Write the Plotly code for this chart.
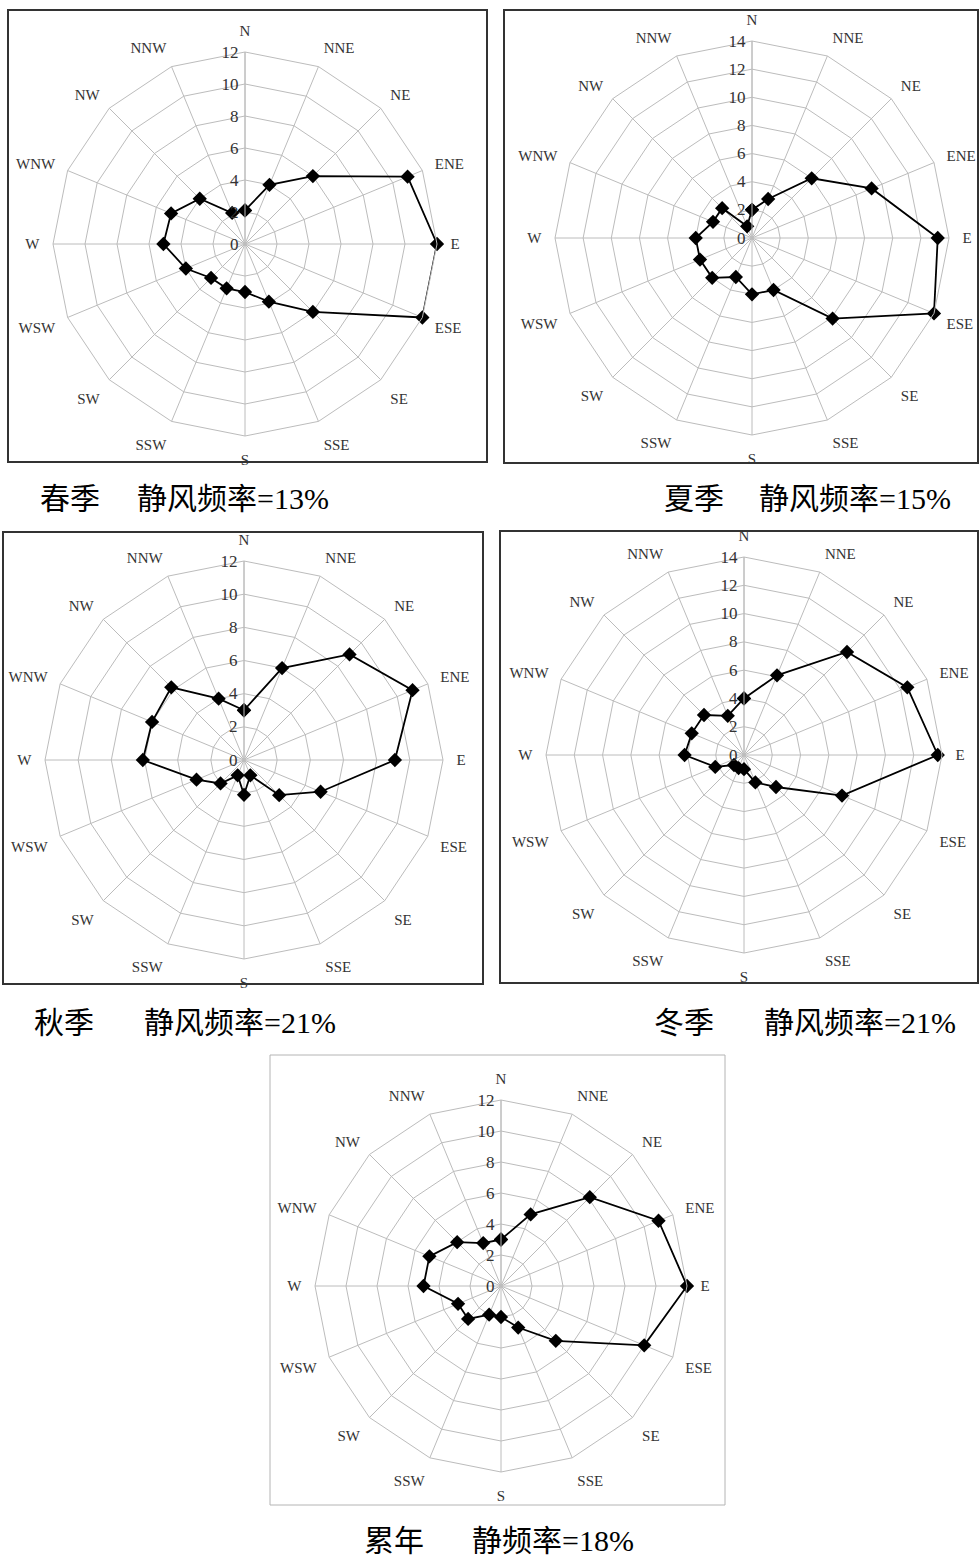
import plotly.graph_objects as go

W, H = 979, 1558

directions = ["N", "NNE", "NE", "ENE", "E", "ESE", "SE", "SSE",
              "S", "SSW", "SW", "WSW", "W", "WNW", "NW", "NNW"]

spring = [2.1, 4, 6, 11, 12, 12, 6, 3.9, 3, 3, 3, 4, 5.1, 5, 4, 2.1]
summer = [2, 3, 6, 9.2, 13.2, 14, 8.1, 4, 4, 3, 4, 4, 4, 3, 3, 0.9]
autumn = [3, 6, 9, 11, 9.1, 5, 3, 1, 2.1, 1, 2, 3.1, 6.1, 6, 6.2, 4]
winter = [4, 6.1, 10.3, 12.5, 13.7, 7.5, 3.2, 2.1, 1, 1, 1, 2.2, 4.2, 4, 4, 3]
annual = [3, 5, 8.1, 11, 12, 10, 5, 2.9, 2, 2, 3, 3, 5, 5, 4, 3]

seasons = ["春季", "夏季", "秋季", "冬季", "累年"]
calm = ["静风频率=13%", "静风频率=15%", "静风频率=21%", "静风频率=21%", "静频率=18%"]

# ─── panel geometry (pixels) ─────────────────────────────────────────────────
# (series, rmax, centre x, centre y, radius, box x0, y0, x1, y1, box colour, box width)
panels = [
    (spring, 12, 245, 244, 192, 8, 10, 487, 462, "#333333", 2),
    (summer, 14, 752, 238, 197, 504, 10, 978, 463, "#333333", 2),
    (autumn, 12, 244, 760, 199, 3, 532, 483, 984, "#333333", 2),
    (winter, 14, 744, 755, 198, 500, 531, 978, 983, "#333333", 2),
    (annual, 12, 501, 1286, 186, 270, 1055, 725, 1505, "#b4b4b4", 1),
]
# (season text left x, calm text left x, centre y)
caption_pos = [(38, 135, 498), (662, 757, 498), (32, 142, 1022),
               (652, 762, 1022), (362, 470, 1540)]

SERIF = "Liberation Serif, Noto Sans CJK SC"
GRID = "#bcbcbc"

fig = go.Figure()
layout = dict(
    width=W, height=H,
    margin=dict(l=0, r=0, t=0, b=0),
    paper_bgcolor="white",
    plot_bgcolor="white",
    showlegend=False,
    shapes=[], annotations=[],
)

for i, (vals, rmax, cx, cy, R, bx0, by0, bx1, by1, bcol, bw) in enumerate(panels):
    key = "polar" if i == 0 else f"polar{i + 1}"
    fig.add_trace(go.Scatterpolar(
        r=vals + [vals[0]],
        theta=directions + [directions[0]],
        mode="lines+markers",
        line=dict(color="black", width=1.8),
        marker=dict(symbol="diamond", size=11, color="black"),
        subplot=key,
    ))
    layout[key] = dict(
        domain=dict(x=[(cx - R) / W, (cx + R) / W],
                    y=[1 - (cy + R) / H, 1 - (cy - R) / H]),
        gridshape="linear",
        bgcolor="white",
        radialaxis=dict(
            range=[0, rmax], dtick=2, tick0=0, angle=90, tickangle=90,
            side="counterclockwise",
            showline=True, linecolor=GRID, linewidth=1,
            gridcolor=GRID, gridwidth=1,
            ticks="", tickfont=dict(family=SERIF, size=17, color="#333"),
        ),
        angularaxis=dict(
            direction="clockwise", rotation=90, type="category",
            categoryarray=directions,
            showline=True, linecolor=GRID, linewidth=1,
            gridcolor=GRID, gridwidth=1,
            ticks="outside", ticklen=10, tickcolor="rgba(0,0,0,0)",
            tickfont=dict(family=SERIF, size=15, color="#333"),
        ),
    )
    layout["shapes"].append(dict(
        type="rect", xref="paper", yref="paper",
        x0=bx0 / W, x1=bx1 / W, y0=1 - by1 / H, y1=1 - by0 / H,
        line=dict(color=bcol, width=bw), layer="below",
    ))
    sx, kx, ty = caption_pos[i]
    for text, tx in ((seasons[i], sx), (calm[i], kx)):
        layout["annotations"].append(dict(
            text=text, x=tx / W, y=1 - ty / H, xref="paper", yref="paper",
            xanchor="left", yanchor="middle", showarrow=False,
            font=dict(family=SERIF, size=30, color="black"),
        ))

fig.update_layout(**layout)
fig.write_html("out.html", config={"displayModeBar": False},
               post_script="document.body.style.margin='0px';")
